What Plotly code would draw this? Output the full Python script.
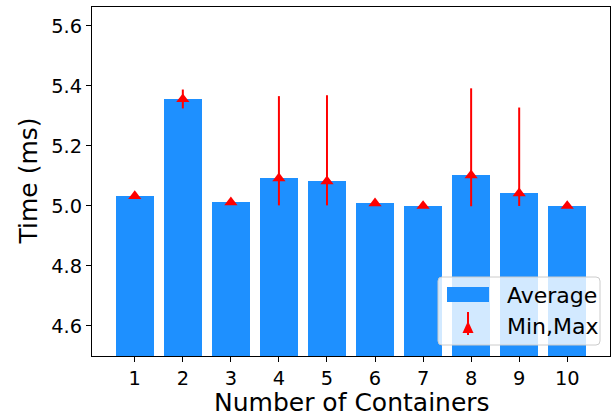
import plotly.graph_objects as go

containers = [1, 2, 3, 4, 5, 6, 7, 8, 9, 10]
avg_ms = [5.033, 5.356, 5.012, 5.092, 5.082, 5.009, 5.000, 5.102, 5.042, 5.000]
min_ms = [5.028, 5.325, 5.008, 5.002, 5.002, 5.005, 4.997, 4.999, 5.000, 4.997]
max_ms = [5.040, 5.388, 5.017, 5.366, 5.369, 5.013, 5.004, 5.392, 5.328, 5.004]
y_ticks = [4.6, 4.8, 5.0, 5.2, 5.4, 5.6]
y_tick_text = ["4.6", "4.8", "5.0", "5.2", "5.4", "5.6"]

BLUE = "#1E90FF"
RED = "#FF0000"
FONT = "DejaVu Sans"

fig = go.Figure()
fig.add_trace(go.Bar(x=containers, y=avg_ms, base=0, width=0.8,
                     marker=dict(color=BLUE, line=dict(width=0)),
                     name="Average", showlegend=False))
fig.add_trace(go.Scatter(
    x=containers, y=avg_ms, mode="markers", name="Min,Max", showlegend=False,
    marker=dict(symbol="triangle-up", size=11.5, color=RED, line=dict(width=0)),
    error_y=dict(type="data", symmetric=False,
                 array=[mx - a for mx, a in zip(max_ms, avg_ms)],
                 arrayminus=[a - mn for a, mn in zip(avg_ms, min_ms)],
                 color=RED, thickness=2, width=0)))

# px -> paper helpers (plot area: x 92..610, y 7..356)
L, R, T, B = 92, 610, 7, 356
def px(x):
    return (x - L) / (R - L)
def py(y):
    return (B - y) / (B - T)

# custom legend box (rounded)
x0, x1, y0, y1 = px(438), px(600), py(345), py(277)
rx, ry = 4 / (R - L), 4 / (B - T)
path = (f"M {x0+rx},{y0} L {x1-rx},{y0} Q {x1},{y0} {x1},{y0+ry} "
        f"L {x1},{y1-ry} Q {x1},{y1} {x1-rx},{y1} L {x0+rx},{y1} "
        f"Q {x0},{y1} {x0},{y1-ry} L {x0},{y0+ry} Q {x0},{y0} {x0+rx},{y0} Z")
shapes = [
    dict(type="path", xref="paper", yref="paper", path=path,
         fillcolor="rgba(255,255,255,0.8)", line=dict(color="#cccccc", width=1), layer="above"),
    dict(type="rect", xref="paper", yref="paper", x0=px(447), x1=px(489), y0=py(302), y1=py(287),
         fillcolor=BLUE, line=dict(width=0), layer="above"),
    dict(type="line", xref="paper", yref="paper", x0=px(468), x1=px(468), y0=py(335), y1=py(312),
         line=dict(color=RED, width=2), layer="above"),
    dict(type="path", xref="paper", yref="paper",
         path=f"M {px(462.5)},{py(333)} L {px(473.5)},{py(333)} L {px(468)},{py(321)} Z",
         fillcolor=RED, line=dict(width=0), layer="above"),
]

annotations = [
    dict(text="Average", xref="paper", yref="paper", x=px(505), y=py(295), xanchor="left",
         yanchor="middle", showarrow=False, font=dict(family=FONT, size=22, color="black")),
    dict(text="Min,Max", xref="paper", yref="paper", x=px(505), y=py(326), xanchor="left",
         yanchor="middle", showarrow=False, font=dict(family=FONT, size=22, color="black")),
    dict(text="Number of Containers", xref="paper", yref="paper", x=px(352), y=py(402),
         xanchor="center", yanchor="middle", showarrow=False,
         font=dict(family=FONT, size=25, color="black")),
    dict(text="Time (ms)", xref="paper", yref="paper", x=px(28), y=0.5, textangle=-90,
         xanchor="center", yanchor="middle", showarrow=False,
         font=dict(family=FONT, size=25, color="black")),
]

fig.update_layout(
    width=612, height=417,
    margin=dict(l=L, r=612 - R, t=T, b=417 - B, pad=0),
    paper_bgcolor="white", plot_bgcolor="white",
    font=dict(family=FONT, size=19.4, color="black"),
    shapes=shapes, annotations=annotations,
    bargap=0,
)
fig.update_xaxes(range=[0.11, 10.89], tickmode="array", tickvals=containers,
                 ticktext=[str(c) for c in containers],
                 showline=True, linecolor="black", linewidth=1, mirror=True,
                 ticks="outside", ticklen=5, tickwidth=1, tickcolor="black",
                 showgrid=False, zeroline=False)
fig.update_yaxes(range=[4.5, 5.663], tickmode="array", tickvals=y_ticks, ticktext=y_tick_text,
                 showline=True, linecolor="black", linewidth=1, mirror=True,
                 ticks="outside", ticklen=5, tickwidth=1, tickcolor="black",
                 showgrid=False, zeroline=False)

fig.write_html("out.html", config={"displayModeBar": False},
               post_script="document.body.style.margin='0px';document.body.style.overflow='hidden';")
